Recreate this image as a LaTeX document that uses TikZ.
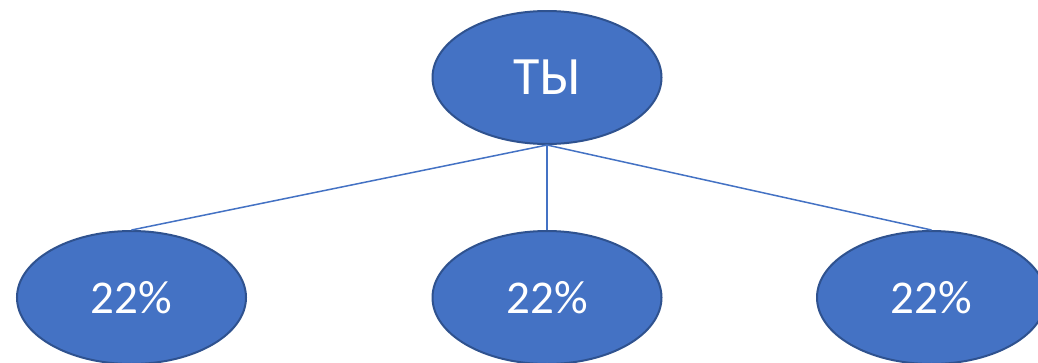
\documentclass[tikz,border=0pt]{standalone}
\usepackage{fontspec}
\setmainfont{Carlito}
\usetikzlibrary{shapes.geometric}
\definecolor{nodefill}{HTML}{4472C4}
\definecolor{nodeedge}{HTML}{2F528F}
\tikzset{
  oval/.style={ellipse, fill=nodefill, draw=nodeedge, line width=2pt,
    minimum width=229pt, minimum height=133pt, inner sep=0pt, text=white},
  link/.style={draw=nodefill, line width=1.5pt}
}
\begin{document}
\begin{tikzpicture}[x=1pt,y=-1pt]
\useasboundingbox[fill=white] (0,0) rectangle (1038,362);
\node[oval, font=\fontsize{54}{60}\selectfont] (top) at (547,77.5) {ТЫ};
\node[oval, font=\fontsize{47}{52}\selectfont] (left) at (131.5,297.5) {22\%};
\node[oval, font=\fontsize{47}{52}\selectfont] (mid) at (547,297.5) {22\%};
\node[oval, font=\fontsize{47}{52}\selectfont] (right) at (931.5,297.5) {22\%};
\draw[link] (top.south) -- (left.north);
\draw[link] (top.south) -- (mid.north);
\draw[link] (top.south) -- (right.north);
\end{tikzpicture}
\end{document}
